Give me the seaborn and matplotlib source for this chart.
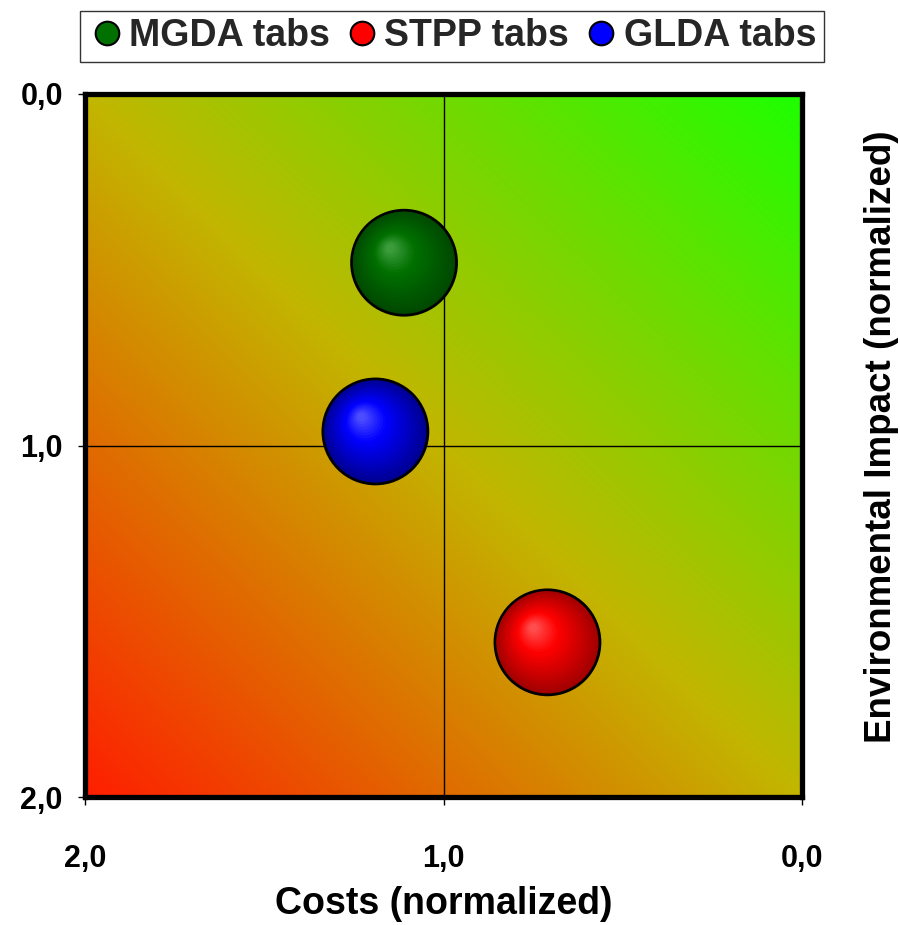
import numpy as np
import pandas as pd
import matplotlib
matplotlib.use("Agg")
import matplotlib.pyplot as plt
import matplotlib.transforms as mtransforms
from matplotlib.colors import to_rgb
from matplotlib.lines import Line2D
import seaborn as sns

# ---- data ----
products = ["MGDA tabs", "STPP tabs", "GLDA tabs"]
costs = [1.11, 0.71, 1.19]
impact = [0.48, 1.56, 0.96]
base_colors = ["#007000", "#FF0000", "#0000FF"]
dark_colors = ["#004800", "#A00000", "#000090"]
light_colors = ["#4CA84C", "#FF6060", "#6060FF"]
tick_vals = [0.0, 1.0, 2.0]
tick_labels = ["0,0", "1,0", "2,0"]

df = pd.DataFrame({"product": products, "cost": costs, "impact": impact})

sns.set_theme(style="white")
plt.rcParams["font.family"] = ["Liberation Sans", "DejaVu Sans"]
plt.rcParams["font.weight"] = "bold"

fig = plt.figure(figsize=(9, 9.25), dpi=100)
ax = fig.add_axes([85 / 900, 1 - 797 / 925, 717 / 900, 703 / 925])

# background gradient: red (2,2) -> olive (mid) -> green (0,0)
n = 300
gx = np.linspace(0, 2, n)
gy = np.linspace(0, 2, n)
X, Y = np.meshgrid(gx, gy)
t = 1 - (X + Y) / 4.0  # 0 at red corner, 1 at green corner
c_red = np.array(to_rgb("#FF1E00"))
c_mid = np.array(to_rgb("#C2B600"))
c_grn = np.array(to_rgb("#1EFF00"))
lo = t <= 0.5
u = (t / 0.5)[..., None]
v = ((t - 0.5) / 0.5)[..., None]
img = np.where(lo[..., None], c_red + (c_mid - c_red) * u, c_mid + (c_grn - c_mid) * v)
ax.imshow(img, extent=(0, 2, 2, 0), origin="upper", aspect="auto", zorder=0, interpolation="bilinear")

ax.set_xlim(2, 0)
ax.set_ylim(2, 0)

# grid lines at 1.0
ax.axvline(1.0, color="black", lw=1.0, zorder=1)
ax.axhline(1.0, color="black", lw=1.0, zorder=1)

# bubbles
r_pts = 52.5 * 72 / 100  # radius in points
s_full = (2 * r_pts) ** 2
palette = dict(zip(products, dark_colors))
sns.scatterplot(data=df, x="cost", y="impact", hue="product", palette=palette,
                s=s_full, edgecolor="black", linewidth=2.0, legend=False, ax=ax, zorder=3)

N = 22
off = np.array([-0.29, 0.30]) * r_pts  # highlight offset (points), up-left on screen
for i in range(1, N + 1):
    f = 1 - i / (N + 2)
    dx, dy = off * (1 - f)
    tr = mtransforms.offset_copy(ax.transData, fig=fig, x=dx, y=dy, units="points")
    for k in range(len(products)):
        d = np.array(to_rgb(dark_colors[k]))
        b = np.array(to_rgb(base_colors[k]))
        lt = np.array(to_rgb(light_colors[k]))
        w = 1 - f
        if w < 0.6:
            col = d + (b - d) * (w / 0.6)
        else:
            col = b + (lt - b) * ((w - 0.6) / 0.4)
        ax.scatter([costs[k]], [impact[k]], s=(2 * r_pts * f) ** 2, color=col,
                   edgecolor="none", transform=tr, zorder=4 + i)

# axes styling
ax.set_xticks(tick_vals)
ax.set_xticklabels(tick_labels)
ax.set_yticks(tick_vals)
ax.set_yticklabels(tick_labels)
ax.tick_params(axis="x", which="major", direction="out", length=6, width=1, pad=28,
               labelsize=22, bottom=True, colors="black")
ax.tick_params(axis="y", which="major", direction="out", length=5, width=1, pad=11,
               labelsize=22, left=True, colors="black")
for lab in ax.get_xticklabels() + ax.get_yticklabels():
    lab.set_fontweight("bold")
for sp in ax.spines.values():
    sp.set_visible(True)
    sp.set_color("black")
    sp.set_linewidth(3.8)
    sp.set_zorder(50)

ax.set_xlabel("Costs (normalized)", fontsize=27, fontweight="bold", color="black")
ax.xaxis.set_label_coords(0.5, -0.127)
ax.set_ylabel("Environmental Impact (normalized)", fontsize=26.5, fontweight="bold", color="black")
ax.yaxis.set_label_position("right")
ax.yaxis.set_label_coords(1.087, 0.512)

# legend
handles = [Line2D([0], [0], marker="o", linestyle="none", markersize=17,
                  markerfacecolor=base_colors[k], markeredgecolor="black", markeredgewidth=1.5)
           for k in range(len(products))]
leg = fig.legend(handles, products, loc="center", bbox_to_anchor=(452 / 900, 1 - 36.5 / 925),
                 ncol=3, frameon=True, fancybox=False, prop={"weight": "bold", "size": 27},
                 handletextpad=0.1, columnspacing=0.35, borderpad=0.2, handlelength=1.0,
                 borderaxespad=0)
leg.get_frame().set_edgecolor("black")
leg.get_frame().set_linewidth(1.0)

fig.savefig("out.png", dpi=100)
